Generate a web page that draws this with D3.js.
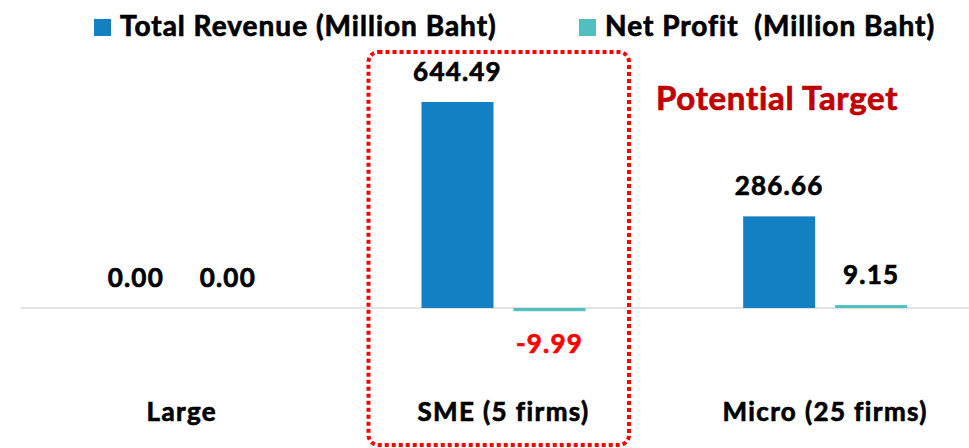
<!DOCTYPE html>
<html>
<head>
<meta charset="utf-8">
<script src="https://cdn.jsdelivr.net/npm/d3@7"></script>
<style>
  body { margin: 0; background: #fff; }
  text { font-family: Lato, "Open Sans", sans-serif; font-weight: 700; stroke-width: 0.7px; }
</style>
</head>
<body>
<div id="chart"></div>
<script>
// data
var categories = ["Large", "SME (5 firms)", "Micro (25 firms)"];
var seriesNames = ["Total Revenue (Million Baht)", "Net Profit  (Million Baht)"];
var revenue = [0.00, 644.49, 286.66];
var profit = [0.00, -9.99, 9.15];
var seriesColors = ["#1380c3", "#4fbfbf"];

var svgWidth = 969;
var svgHeight = 448;

var svg = d3.select("#chart")
  .append("svg")
  .attr("width", svgWidth)
  .attr("height", svgHeight);

var rows = categories.map(function(c, i) {
  return { cat: c, values: [revenue[i], profit[i]] };
});

var x0 = d3.scaleBand()
  .domain(categories)
  .range([21, 986]);

var bw = x0.bandwidth();
var x1 = d3.scaleBand()
  .domain([0, 1])
  .range([bw / 2 - 82, bw / 2 + 82])
  .paddingInner(0.2174);

var y = d3.scaleLinear()
  .domain([0, 644.49])
  .range([308, 102]);

// zero line
svg.append("line")
  .attr("x1", 21)
  .attr("x2", svgWidth)
  .attr("y1", y(0))
  .attr("y2", y(0))
  .attr("stroke", "#d9d9d9")
  .attr("stroke-width", 1.5);

var groups = svg.selectAll("g.cat")
  .data(rows)
  .enter()
  .append("g")
  .attr("class", "cat")
  .attr("transform", d => `translate(${x0(d.cat)},0)`);

var cells = groups.selectAll("g.bar")
  .data(d => d.values.map((v, i) => ({ v: v, s: i })))
  .enter()
  .append("g");

cells.append("rect")
  .attr("x", d => x1(d.s))
  .attr("width", x1.bandwidth())
  .attr("y", d => y(Math.max(0, d.v)))
  .attr("height", d => Math.abs(y(d.v) - y(0)))
  .attr("fill", d => seriesColors[d.s]);

cells.append("text")
  .attr("x", d => x1(d.s) + x1.bandwidth() / 2)
  .attr("y", d => d.v < 0 ? y(d.v) + 42 : y(d.v) - 21)
  .attr("text-anchor", "middle")
  .attr("font-size", 26)
  .attr("letter-spacing", 1.2)
  .attr("fill", d => d.v < 0 ? "#ff0000" : "#000")
  .attr("stroke", d => d.v < 0 ? "#ff0000" : "#000")
  .text(d => d.v.toFixed(2));

// category labels
svg.append("g").selectAll("text")
  .data(categories)
  .enter()
  .append("text")
  .attr("x", d => x0(d) + bw / 2)
  .attr("y", 421)
  .attr("text-anchor", "middle")
  .attr("font-size", 26)
  .attr("letter-spacing", 1.4)
  .attr("fill", "#000")
  .attr("stroke", "#000")
  .text(d => d);

// legend
var legendX = [94, 579];
var legend = svg.append("g").selectAll("g")
  .data(seriesNames)
  .enter()
  .append("g")
  .attr("transform", (d, i) => `translate(${legendX[i]},19)`);

legend.append("rect")
  .attr("width", 17)
  .attr("height", 17)
  .attr("fill", (d, i) => seriesColors[i]);

legend.append("text")
  .attr("x", 26)
  .attr("y", 17)
  .attr("font-size", 28)
  .attr("letter-spacing", 1.0)
  .attr("fill", "#000")
  .attr("stroke", "#000")
  .attr("xml:space", "preserve")
  .style("white-space", "pre")
  .text(d => d);

// highlight box around SME
svg.append("rect")
  .attr("x", 368.5)
  .attr("y", 52)
  .attr("width", 260.5)
  .attr("height", 393)
  .attr("rx", 10)
  .attr("fill", "none")
  .attr("stroke", "#ff0000")
  .attr("stroke-width", 4)
  .attr("stroke-dasharray", "4,3");

svg.append("text")
  .attr("x", 656)
  .attr("y", 110)
  .attr("font-size", 33)
  .attr("letter-spacing", 0.7)
  .attr("fill", "#c00000")
  .attr("stroke", "#c00000")
  .text("Potential Target");
</script>
</body>
</html>
